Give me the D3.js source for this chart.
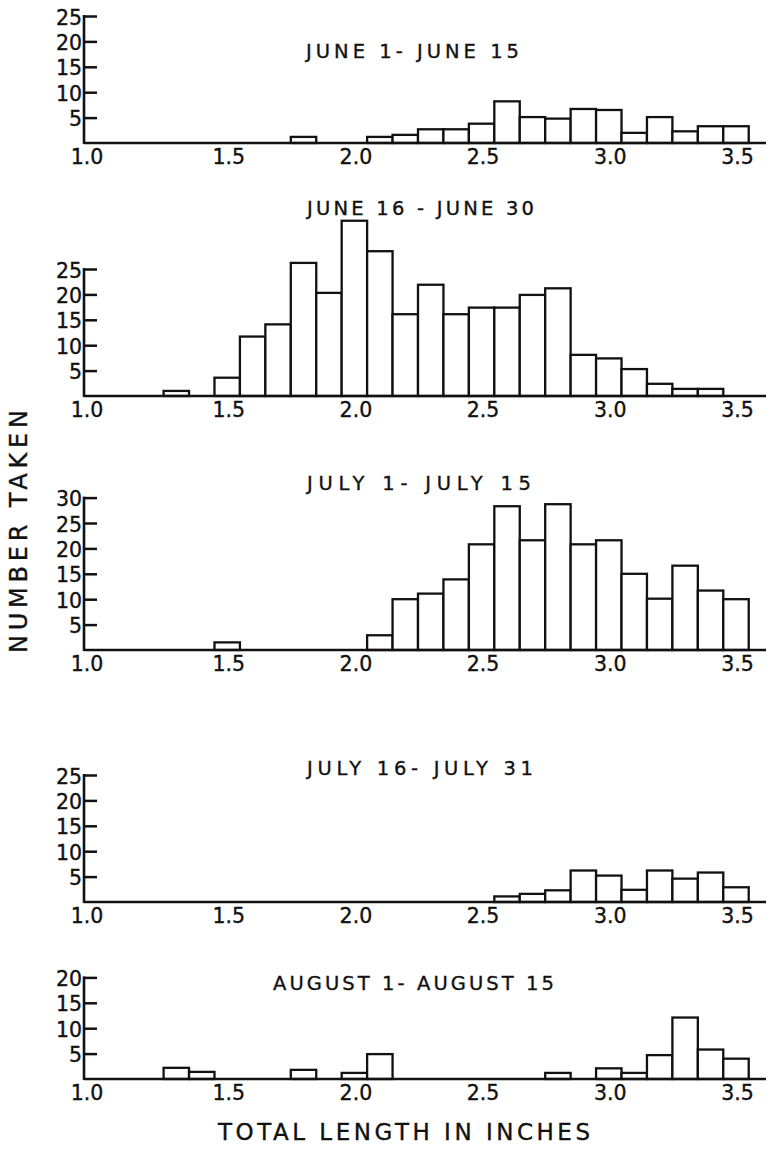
<!DOCTYPE html>
<html>
<head>
<meta charset="utf-8">
<script src="https://cdn.jsdelivr.net/npm/d3@7"></script>
<style>
  body { margin: 0; background: #fff; }
  svg text { font-family: "DejaVu Sans", sans-serif; fill: #111; stroke: #111; stroke-width: 0.35px; }
</style>
</head>
<body>
<div id="chart"></div>
<script>
// Chart data
const panelTitles = [
    "JUNE 1- JUNE 15",
    "JUNE 16 - JUNE 30",
    "JULY 1- JULY 15",
    "JULY 16- JULY 31",
    "AUGUST 1- AUGUST 15"
];

// bin centres (inches) and counts for each half month
const juneEarlyBins = [1.8, 2.1, 2.2, 2.3, 2.4, 2.5, 2.6, 2.7, 2.8, 2.9, 3.0, 3.1, 3.2, 3.3, 3.4, 3.5];
const juneEarlyCounts = [1.2, 1.2, 1.6, 2.7, 2.7, 3.8, 8.2, 5.1, 4.8, 6.7, 6.5, 2.0, 5.1, 2.3, 3.3, 3.3];

const juneLateBins = [1.3, 1.5, 1.6, 1.7, 1.8, 1.9, 2.0, 2.1, 2.2, 2.3, 2.4, 2.5, 2.6, 2.7, 2.8, 2.9, 3.0, 3.1, 3.2, 3.3, 3.4];
const juneLateCounts = [1.0, 3.6, 11.7, 14.1, 26.2, 20.3, 34.5, 28.5, 16.1, 21.9, 16.1, 17.4, 17.4, 19.9, 21.2, 8.1, 7.4, 5.3, 2.4, 1.4, 1.4];

const julyEarlyBins = [1.5, 2.1, 2.2, 2.3, 2.4, 2.5, 2.6, 2.7, 2.8, 2.9, 3.0, 3.1, 3.2, 3.3, 3.4, 3.5];
const julyEarlyCounts = [1.5, 2.9, 10.0, 11.1, 13.9, 20.8, 28.3, 21.6, 28.7, 20.8, 21.6, 15.0, 10.1, 16.6, 11.7, 10.0];

const julyLateBins = [2.6, 2.7, 2.8, 2.9, 3.0, 3.1, 3.2, 3.3, 3.4, 3.5];
const julyLateCounts = [1.1, 1.6, 2.3, 6.2, 5.2, 2.4, 6.2, 4.6, 5.8, 2.9];

const augustBins = [1.3, 1.4, 1.8, 2.0, 2.1, 2.8, 3.0, 3.1, 3.2, 3.3, 3.4, 3.5];
const augustCounts = [2.2, 1.4, 1.8, 1.2, 4.9, 1.2, 2.1, 1.2, 4.7, 12.1, 5.8, 4.0];

const xTickLabels = [1.0, 1.5, 2.0, 2.5, 3.0, 3.5];
const yTicksByPanel = [
    [5, 10, 15, 20, 25],
    [5, 10, 15, 20, 25],
    [5, 10, 15, 20, 25, 30],
    [5, 10, 15, 20, 25],
    [5, 10, 15, 20]
];

const panels = [
    { bins: juneEarlyBins, counts: juneEarlyCounts },
    { bins: juneLateBins, counts: juneLateCounts },
    { bins: julyEarlyBins, counts: julyEarlyCounts },
    { bins: julyLateBins, counts: julyLateCounts },
    { bins: augustBins, counts: augustCounts }
];

// Layout
const width = 771;
const height = 1159;
const baselines = [143, 396, 650, 902, 1079];  // y of each panel's x axis
const titleOffsets = [92, 188, 167, 134, 96];   // title centre above baseline
const titleSpans = [[306, 519], [307, 534], [307, 531], [307, 533], [273, 554]];
const pxPerUnit = 5.08;
const binWidth = 0.1;

const svg = d3.select("#chart")
    .append("svg")
    .attr("width", width)
    .attr("height", height);

// one shared x scale for all panels
const x = d3.scaleLinear()
    .domain([1.0, 3.5])
    .range([100, 736]);
const axisStart = 84, axisEnd = 766;

panels.forEach((p, i) => {
    const base = baselines[i];
    const ticks = yTicksByPanel[i];
    const y = d3.scaleLinear()
        .domain([0, 1])
        .range([base, base - pxPerUnit]);

    const g = svg.append("g").attr("class", "panel");

    // bars
    g.append("g")
        .selectAll("rect")
        .data(p.bins.map((b, k) => ({ bin: b, count: p.counts[k] })))
        .enter().append("rect")
        .attr("x", d => x(d.bin - binWidth / 2))
        .attr("width", d => x(d.bin + binWidth / 2) - x(d.bin - binWidth / 2))
        .attr("y", d => y(d.count))
        .attr("height", d => y(0) - y(d.count))
        .attr("fill", "#fff")
        .attr("stroke", "#111")
        .attr("stroke-width", 2.3);

    // y axis: line plus inward ticks
    const yAxis = d3.axisRight(y)
        .tickValues(ticks)
        .tickSize(13)
        .tickFormat("");
    const ya = g.append("g")
        .attr("transform", `translate(${axisStart},0)`)
        .call(yAxis);
    ya.select(".domain").remove();
    ya.selectAll(".tick line").attr("stroke", "#111").attr("stroke-width", 2.5);
    g.append("line")
        .attr("x1", axisStart).attr("x2", axisStart)
        .attr("y1", y(0) + 1).attr("y2", y(d3.max(ticks)) - 1)
        .attr("stroke", "#111").attr("stroke-width", 2.6);

    g.selectAll(".ylab")
        .data(ticks)
        .enter().append("text")
        .attr("class", "ylab")
        .attr("x", axisStart - 2)
        .attr("y", d => y(d) + 8.5)
        .attr("text-anchor", "end")
        .attr("font-size", 20.5)
        .text(d => d);

    // x axis baseline
    g.append("line")
        .attr("x1", axisStart).attr("x2", axisEnd)
        .attr("y1", base).attr("y2", base)
        .attr("stroke", "#111").attr("stroke-width", 2.6);

    g.selectAll(".xlab")
        .data(xTickLabels)
        .enter().append("text")
        .attr("class", "xlab")
        .attr("x", d => d === 1.0 ? axisStart + 3 : x(d) + 1.5)
        .attr("y", base + 21)
        .attr("text-anchor", "middle")
        .attr("font-size", 20.5)
        .text(d => d.toFixed(1));

    // panel title
    const [t0, t1] = titleSpans[i];
    g.append("text")
        .attr("x", t0)
        .attr("y", base - titleOffsets[i] + 7)
        .attr("font-size", 19.5)
        .attr("textLength", t1 - t0)
        .attr("lengthAdjust", "spacing")
        .text(panelTitles[i]);
});

// axis titles
svg.append("text")
    .attr("transform", "translate(27,653) rotate(-90)")
    .attr("font-size", 24)
    .attr("textLength", 243)
    .attr("lengthAdjust", "spacing")
    .text("NUMBER TAKEN");

svg.append("text")
    .attr("x", 218)
    .attr("y", 1140)
    .attr("font-size", 23)
    .attr("textLength", 372)
    .attr("lengthAdjust", "spacing")
    .text("TOTAL LENGTH IN INCHES");
</script>
</body>
</html>
